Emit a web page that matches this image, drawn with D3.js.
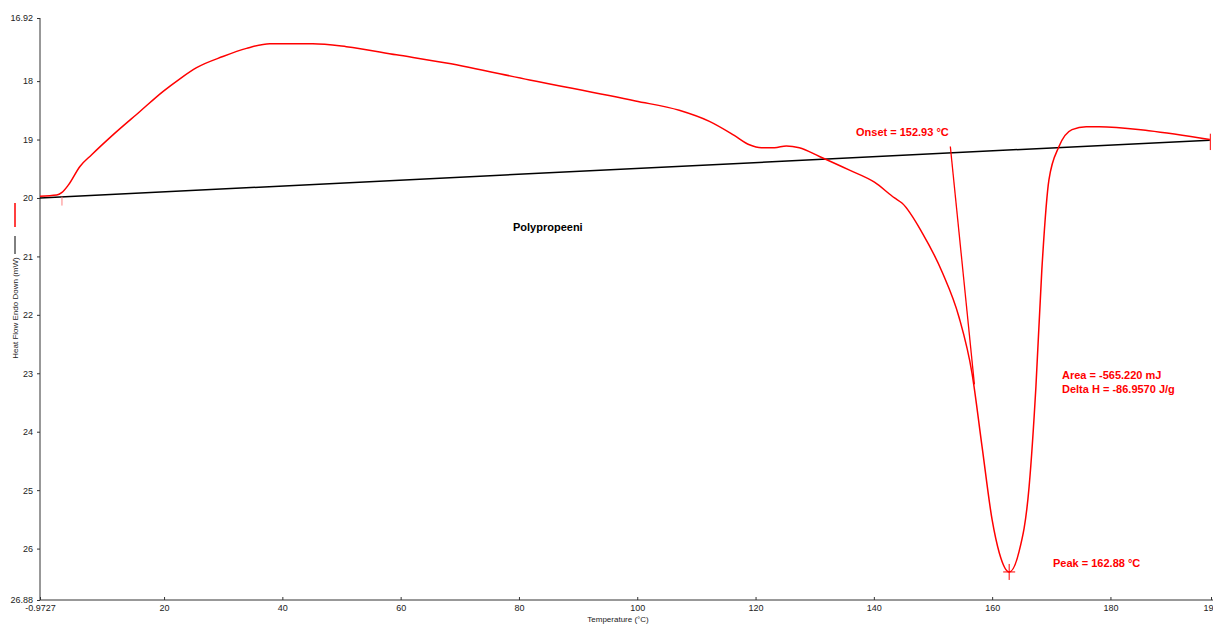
<!DOCTYPE html>
<html>
<head>
<meta charset="utf-8">
<script src="https://cdn.jsdelivr.net/npm/d3@7"></script>
<style>
  body { margin: 0; background: #fff; }
  svg { display: block; font-family: "Liberation Sans", Arial, sans-serif; }
</style>
</head>
<body>
<div id="chart"></div>
<script>
// DSC trace, values
var temps = [-0.97, 1.85, 2.69, 3.81, 5.78, 7.76, 11.36, 15.92, 19.8, 22.68, 25.5, 29.94,
    33.94, 37.88, 45.14, 50.83, 59.28, 67.73, 81.8, 99.7, 107.1, 112.2, 116.4, 118.96,
    121.0, 123.2, 125.2, 127.4, 130.8, 135.8, 140.1, 143.5, 144.8, 148.2, 151.6, 154.4,
    156.6, 158.3, 160.0, 161.2, 162.88, 164.5, 166.25, 167.4, 168.4, 169.6, 171.3,
    173.5, 175.9, 178.1, 186.5, 196.8];
var heatFlow = [19.97, 19.95, 19.91, 19.78, 19.46, 19.26, 18.92, 18.52, 18.18, 17.96, 17.77, 17.58,
    17.44, 17.36, 17.36, 17.41, 17.55, 17.69, 17.98, 18.34, 18.5, 18.69, 18.93, 19.09,
    19.14, 19.14, 19.11, 19.14, 19.29, 19.52, 19.73, 20.0, 20.09, 20.6, 21.28, 22.04,
    23.0, 24.26, 25.51, 26.07, 26.4, 26.07, 24.94, 23.23, 21.23, 19.69, 19.12,
    18.83, 18.78, 18.78, 18.85, 19.0];

var baselineT = [-0.97, 196.8];
var baselineV = [20.0, 19.01];

var onsetT = [152.93, 157.0];
var onsetV = [19.12, 23.19];

var peakT = 162.88, peakV = 26.40;
var startT = 2.74, endT = 196.8;

var xTickValues = [-0.9727, 20, 40, 60, 80, 100, 120, 140, 160, 180, 197.0];
var xTickLabels = ["-0.9727", "20", "40", "60", "80", "100", "120", "140", "160", "180", "19"];
var yTickValues = [16.92, 18, 19, 20, 21, 22, 23, 24, 25, 26, 26.88];
var yTickLabels = ["16.92", "18", "19", "20", "21", "22", "23", "24", "25", "26", "26.88"];

var W = 1213, H = 624;

var svg = d3.select("#chart").append("svg")
    .attr("width", W)
    .attr("height", H);

var x = d3.scaleLinear().domain([-0.9727, 197.0]).range([40, 1211]);
var y = d3.scaleLinear().domain([16.92, 26.88]).range([18, 600]);

// axes
var xAxis = d3.axisBottom(x)
    .tickValues(xTickValues)
    .tickSize(-3)
    .tickFormat(function (d, i) { return xTickLabels[i]; });

var gx = svg.append("g")
    .attr("transform", "translate(0," + 600 + ")")
    .call(xAxis);
gx.select(".domain").attr("d", "M40,0H" + W);
gx.selectAll("text").attr("dy", "0.55em").attr("y", 6);
gx.selectAll(".tick").filter(function (d, i) { return i === xTickValues.length - 1; })
    .select("text").attr("text-anchor", "end").attr("x", 2);

var yAxis = d3.axisLeft(y)
    .tickValues(yTickValues)
    .tickSize(3)
    .tickFormat(function (d, i) { return yTickLabels[i]; });

var gy = svg.append("g")
    .attr("transform", "translate(40,0)")
    .call(yAxis);
gy.select(".domain").attr("d", "M0,18V600");
gy.selectAll("text").attr("x", -7);

svg.selectAll(".domain, .tick line").attr("stroke", "#333");
svg.selectAll(".tick text").attr("fill", "#222").style("font-size", "9px");

// axis titles
svg.append("text")
    .attr("x", 618).attr("y", 622)
    .attr("text-anchor", "middle")
    .style("font-size", "8px")
    .attr("fill", "#222")
    .text("Temperature (°C)");

svg.append("text")
    .attr("transform", "translate(18,308) rotate(-90)")
    .attr("text-anchor", "middle")
    .style("font-size", "8px")
    .attr("fill", "#222")
    .text("Heat Flow Endo Down (mW)");

// legend swatches beside the y title
svg.append("line").attr("x1", 15).attr("x2", 15).attr("y1", 203).attr("y2", 227)
    .attr("stroke", "#ff0000").attr("stroke-width", 1.5);
svg.append("line").attr("x1", 15).attr("x2", 15).attr("y1", 236).attr("y2", 254)
    .attr("stroke", "#000").attr("stroke-width", 1);

// baseline
svg.append("path")
    .datum(d3.zip(baselineT, baselineV))
    .attr("d", d3.line().x(function (d) { return x(d[0]); }).y(function (d) { return y(d[1]); }))
    .attr("fill", "none")
    .attr("stroke", "#000")
    .attr("stroke-width", 1.5);

// heat flow curve
var line = d3.line()
    .x(function (d) { return x(d[0]); })
    .y(function (d) { return y(d[1]); })
    .curve(d3.curveMonotoneX);

svg.append("path")
    .datum(d3.zip(temps, heatFlow))
    .attr("d", line)
    .attr("fill", "none")
    .attr("stroke", "#ff0000")
    .attr("stroke-width", 1.5);

// onset tangent
svg.append("path")
    .datum(d3.zip(onsetT, onsetV))
    .attr("d", d3.line().x(function (d) { return x(d[0]); }).y(function (d) { return y(d[1]); }))
    .attr("fill", "none")
    .attr("stroke", "#ff0000")
    .attr("stroke-width", 1.3);

// markers
var red = "#ff0000";
svg.append("line").attr("x1", x(startT)).attr("x2", x(startT))
    .attr("y1", y(19.98)).attr("y2", y(20.13)).attr("stroke", "#ff8080").attr("stroke-width", 1);
svg.append("line").attr("x1", x(endT) + 0.5).attr("x2", x(endT) + 0.5)
    .attr("y1", y(18.9)).attr("y2", y(19.18)).attr("stroke", red).attr("stroke-width", 1);
svg.append("line").attr("x1", x(peakT)).attr("x2", x(peakT))
    .attr("y1", y(peakV) - 8).attr("y2", y(peakV) + 8).attr("stroke", red).attr("stroke-width", 1);
svg.append("line").attr("x1", x(peakT) - 6).attr("x2", x(peakT) + 6)
    .attr("y1", y(peakV)).attr("y2", y(peakV)).attr("stroke", red).attr("stroke-width", 1);

// annotations
function note(tx, ty, str, color) {
    svg.append("text")
        .attr("x", tx).attr("y", ty)
        .attr("fill", color)
        .style("font-size", "11px")
        .style("font-weight", "bold")
        .text(str);
}
note(856, 136, "Onset = 152.93 °C", red);
note(1062, 379, "Area = -565.220 mJ", red);
note(1062, 393, "Delta H = -86.9570 J/g", red);
note(1053, 567, "Peak = 162.88 °C", red);
note(513, 231, "Polypropeeni", "#000");
</script>
</body>
</html>
